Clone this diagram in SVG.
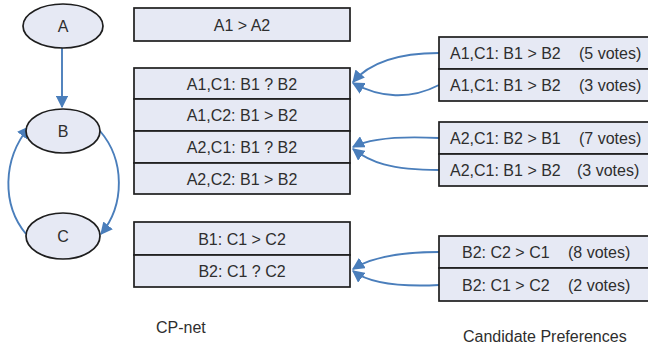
<svg xmlns="http://www.w3.org/2000/svg" width="648" height="349" viewBox="0 0 648 349">
<defs>
<style>
.n{fill:#e6e9f4;stroke:#1e1e1e;stroke-width:1.7}
.t{font-family:"Liberation Sans",Arial,sans-serif;font-size:16px;fill:#2e2e2e}
.c{text-anchor:middle}
.e{fill:none;stroke:#4a7ebb;stroke-width:1.9;marker-end:url(#ah)}
</style>
<marker id="ah" viewBox="0 0 10 10" refX="9" refY="5" markerWidth="6.5" markerHeight="6.5" markerUnits="strokeWidth" orient="auto">
<path d="M0,0 L10,5 L0,10 z" fill="#4a7ebb"/>
</marker>
</defs>
<rect width="648" height="349" fill="#fff"/>
<g id="connectors">
<path class="e" d="M62,48 L62,107"/>
<path class="e" d="M26,234 C2,205 2,160 29,127"/>
<path class="e" d="M100,131 C125,160 125,205 101,234"/>
<path class="e" d="M439,53 C400,53 370,62 353,82"/>
<path class="e" d="M439,85 C410,100 380,98 353,83"/>
<path class="e" d="M439,138 C400,136 370,138 353,147"/>
<path class="e" d="M439,170 C390,170 370,162 353,149"/>
<path class="e" d="M439,252 C400,252 370,258 353,269"/>
<path class="e" d="M439,285 C400,287 370,284 353,271"/>
</g>
<g id="nodeA"><ellipse class="n" cx="63" cy="26" rx="40" ry="22"/><text class="t c" x="63" y="31.5">A</text></g>
<g id="nodeB"><ellipse class="n" cx="63" cy="131" rx="37" ry="22"/><text class="t c" x="63" y="136.5">B</text></g>
<g id="nodeC"><ellipse class="n" cx="63" cy="236" rx="37" ry="23"/><text class="t c" x="63" y="241.5">C</text></g>
<g id="cptA"><rect class="n" x="134" y="8" width="216" height="33"/><text class="t c" x="242" y="30.5">A1 &gt; A2</text></g>
<g id="cptB">
<rect class="n" x="134" y="68" width="216" height="31"/>
<rect class="n" x="134" y="99" width="216" height="32"/>
<rect class="n" x="134" y="131" width="216" height="32"/>
<rect class="n" x="134" y="163" width="216" height="31"/>
<text class="t c" x="242" y="89.5">A1,C1: B1 ? B2</text>
<text class="t c" x="242" y="121">A1,C2: B1 &gt; B2</text>
<text class="t c" x="242" y="153">A2,C1: B1 ? B2</text>
<text class="t c" x="242" y="184.5">A2,C2: B1 &gt; B2</text>
</g>
<g id="cptC">
<rect class="n" x="134" y="222" width="216" height="33"/>
<rect class="n" x="134" y="255" width="216" height="32"/>
<text class="t c" x="242" y="244.5">B1: C1 &gt; C2</text>
<text class="t c" x="242" y="277">B2: C1 ? C2</text>
</g>
<g id="prefB1">
<rect class="n" x="439" y="37" width="230" height="32"/>
<rect class="n" x="439" y="69" width="230" height="32"/>
<text class="t" x="450" y="59">A1,C1: B1 &gt; B2</text><text class="t" x="579" y="59">(5 votes)</text>
<text class="t" x="450" y="91">A1,C1: B1 &gt; B2</text><text class="t" x="579" y="91">(3 votes)</text>
</g>
<g id="prefB2">
<rect class="n" x="439" y="122" width="230" height="32"/>
<rect class="n" x="439" y="154" width="230" height="32"/>
<text class="t" x="450" y="144">A2,C1: B2 &gt; B1</text><text class="t" x="579" y="144">(7 votes)</text>
<text class="t" x="450" y="176">A2,C1: B1 &gt; B2</text><text class="t" x="577" y="176">(3 votes)</text>
</g>
<g id="prefC">
<rect class="n" x="439" y="236" width="230" height="32"/>
<rect class="n" x="439" y="268" width="230" height="33"/>
<text class="t" x="462" y="258">B2: C2 &gt; C1</text><text class="t" x="568" y="258">(8 votes)</text>
<text class="t" x="462" y="290.5">B2: C1 &gt; C2</text><text class="t" x="568" y="290.5">(2 votes)</text>
</g>
<text class="t" x="156" y="333">CP-net</text>
<text class="t" x="463" y="342">Candidate Preferences</text>
</svg>
